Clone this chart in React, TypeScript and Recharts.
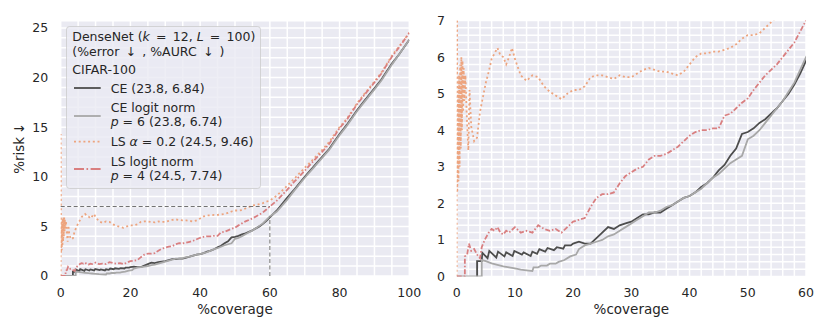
import React from 'react';
import { LineChart, Line, XAxis, YAxis, CartesianGrid, ReferenceLine } from 'recharts';

// [coverage %, risk %]
const ceCurve: [number, number][] = [
  [3.5, 0], [3.5, 0.42], [4.3, 0.42], [4.4, 0.65], [5.3, 0.5], [5.6, 0.7], [6.8, 0.52], [7.1, 0.68],
  [8.2, 0.55], [8.5, 0.66], [9.6, 0.56], [9.9, 0.7], [11.2, 0.6], [11.5, 0.66], [12.7, 0.56], [13.0, 0.68],
  [13.8, 0.62], [14.2, 0.75], [15.2, 0.68], [15.6, 0.78], [16.7, 0.72], [17.2, 0.8], [18.3, 0.76], [18.6, 0.85],
  [19.6, 0.85], [20, 0.9], [21, 0.95], [22, 0.9], [23, 0.9], [24, 1.05], [25, 1.2], [26, 1.35], [27, 1.3],
  [28, 1.4], [29, 1.45], [30, 1.5], [31, 1.6], [32, 1.7], [33, 1.7], [34, 1.75], [35, 1.75], [36, 1.85],
  [37, 1.95], [38, 2.05], [39, 2.15], [40, 2.2], [41, 2.3], [42, 2.45], [43, 2.55], [44, 2.7], [45, 2.9],
  [46, 3.05], [47, 3.3], [48, 3.5], [49, 3.9], [50, 3.95], [51, 4.05], [52, 4.2], [53, 4.3], [54, 4.45],
  [55, 4.6], [56, 4.8], [57, 5.0], [58, 5.25], [59, 5.55], [60, 5.9], [62, 6.6], [65, 7.9], [67, 8.7],
  [70, 10.0], [72, 10.8], [75, 12.0], [77, 12.8], [80, 14.3], [82, 15.2], [85, 16.7], [87, 17.6], [90, 18.9],
  [92, 19.8], [95, 21.4], [97, 22.3], [100, 23.8],
];

const ceLogitCurve: [number, number][] = [
  [0, 0], [4.3, 0], [4.3, 0.45], [5, 0.42], [6, 0.36], [7, 0.32], [8, 0.28], [9, 0.25], [10, 0.22],
  [11, 0.19], [12, 0.17], [13, 0.15], [13.2, 0.25], [14, 0.25], [14.5, 0.3], [15.5, 0.3], [16, 0.35],
  [17, 0.35], [17.5, 0.4], [18.5, 0.45], [19.5, 0.55], [20.5, 0.6], [21, 0.75], [22, 0.85], [23, 0.9],
  [24, 0.95], [25, 1.0], [26, 1.1], [27, 1.15], [28, 1.25], [29, 1.35], [30, 1.45], [31, 1.55], [32, 1.65],
  [33, 1.75], [34, 1.75], [35, 1.8], [36, 1.9], [37, 1.95], [38, 2.05], [39, 2.15], [40, 2.2], [41, 2.3],
  [42, 2.4], [43, 2.55], [44, 2.7], [45, 2.8], [46, 2.95], [47, 3.1], [48, 3.2], [49, 3.3], [50, 3.75],
  [51, 3.85], [52, 4.0], [53, 4.2], [54, 4.4], [55, 4.6], [56, 4.8], [57, 5.05], [58, 5.3], [59, 5.65],
  [60, 6.0], [62, 6.5], [65, 7.7], [67, 8.6], [70, 9.9], [72, 10.7], [75, 11.9], [77, 12.7], [80, 14.2],
  [82, 15.1], [85, 16.6], [87, 17.5], [90, 18.8], [92, 19.7], [95, 21.3], [97, 22.3], [100, 23.8],
];

const lsCurve: [number, number][] = [
  [0, 0], [0, 14.3], [0.1, 2.3], [0.2, 5.0], [0.3, 2.6], [0.4, 5.5], [0.5, 3.0], [0.6, 5.8], [0.7, 3.5],
  [0.8, 6.0], [0.9, 4.0], [1.0, 5.9], [1.1, 4.5], [1.2, 5.7], [1.3, 4.8], [1.5, 5.5], [1.7, 4.5], [2.0, 3.45],
  [2.2, 5.1], [2.5, 4.1], [3.0, 3.7], [3.5, 3.8], [4.0, 4.5], [4.5, 4.9], [5.0, 5.3], [5.5, 5.6], [6.0, 5.95],
  [6.5, 6.1], [7.0, 6.25], [7.5, 6.05], [8, 6.0], [8.5, 5.8], [9, 6.0], [9.5, 6.25], [10, 5.95], [11, 5.5],
  [12, 5.35], [13, 5.5], [14, 5.45], [15, 5.2], [16, 5.05], [17, 4.95], [18, 4.85], [19, 5.0], [20, 5.1],
  [21, 5.1], [22, 5.2], [23, 5.45], [24, 5.5], [25, 5.5], [26, 5.45], [27, 5.4], [28, 5.5], [29, 5.45],
  [30, 5.45], [31, 5.55], [32, 5.65], [33, 5.7], [34, 5.65], [35, 5.6], [36, 5.6], [37, 5.55], [38, 5.5],
  [39, 5.6], [40, 5.8], [41, 6.0], [42, 6.1], [43, 6.1], [44, 6.15], [45, 6.15], [46, 6.2], [47, 6.25],
  [48, 6.35], [49, 6.5], [50, 6.6], [51, 6.6], [52, 6.65], [53, 6.8], [54, 6.95], [55, 7.1], [56, 7.15],
  [57, 7.25], [58, 7.35], [59, 7.5], [60, 7.6], [62, 8.1], [65, 9.1], [67, 9.8], [70, 10.9], [72, 11.6],
  [75, 12.7], [77, 13.5], [80, 15.0], [82, 15.8], [85, 17.4], [87, 18.3], [90, 19.6], [92, 20.5], [95, 22.2],
  [97, 23.1], [100, 24.5],
];

const lsLogitCurve: [number, number][] = [
  [0, 0], [1.4, 0], [1.4, 0.55], [1.8, 0.6], [2.1, 0.9], [2.5, 0.7], [3, 0.75], [3.5, 0.6], [4, 0.5],
  [4.3, 0.8], [4.8, 1.0], [5.5, 1.2], [6, 1.3], [6.5, 1.25], [7, 1.35], [7.5, 1.2], [8, 1.15], [8.5, 1.25],
  [9, 1.2], [10, 1.35], [11, 1.2], [12, 1.25], [13, 1.2], [14, 1.4], [15, 1.3], [16, 1.25], [17, 1.3],
  [18, 1.2], [19, 1.35], [20, 1.5], [21, 1.55], [22, 1.6], [23, 1.9], [24, 2.15], [25, 2.25], [26, 2.25],
  [27, 2.3], [28, 2.55], [29, 2.75], [30, 2.85], [31, 2.95], [32, 3.0], [33, 3.2], [34, 3.3], [35, 3.3],
  [36, 3.35], [37, 3.45], [38, 3.55], [39, 3.7], [40, 3.85], [41, 3.95], [42, 4.0], [43, 4.0], [44, 4.05],
  [45, 4.05], [46, 4.4], [47, 4.45], [48, 4.6], [49, 4.75], [50, 4.87], [51, 5.1], [52, 5.3], [53, 5.5],
  [54, 5.65], [55, 5.8], [56, 6.0], [57, 6.2], [58, 6.4], [59, 6.7], [60, 7.0], [62, 7.6], [65, 8.7],
  [67, 9.5], [70, 10.6], [72, 11.4], [75, 12.5], [77, 13.3], [80, 14.9], [82, 15.7], [85, 17.3], [87, 18.2],
  [90, 19.5], [92, 20.4], [95, 22.1], [97, 23.0], [100, 24.5],
];

// axes
const leftXLabels = [0, 20, 40, 60, 80, 100];
const leftYLabels = [0, 5, 10, 15, 20, 25];
const rightXLabels = [0, 10, 20, 30, 40, 50, 60];
const rightYLabels = [0, 1, 2, 3, 4, 5, 6, 7];
const leftYMax = 25.725;
const rightXMax = 60;
const rightYMax = 7;
// zoom box marker on left panel
const zoomRiskLevel = 7;
const zoomCoverage = 60;
const zoomCoverageRisk = 6;

const steps = (max: number, step: number) =>
  Array.from({ length: Math.round(max / step) + 1 }, (_, i) => Math.round(i * step * 1000) / 1000);

const leftXGrid = steps(100, 5);
const leftYGrid = steps(25, 1);
const rightXGrid = steps(60, 2);
const rightYGrid = steps(7, 0.2);

const toPoints = (c: [number, number][]) => c.map(([x, y]) => ({ x, y }));

const series = [
  { name: 'CE', data: toPoints(ceCurve), color: '#4d4d4d', dash: undefined, legendDash: undefined },
  { name: 'CE logit norm', data: toPoints(ceLogitCurve), color: '#a8a8a8', dash: undefined, legendDash: undefined },
  { name: 'LS', data: toPoints(lsCurve), color: '#eda47e', dash: '2 2.7', legendDash: '2 2.7' },
  { name: 'LS logit norm', data: toPoints(lsLogitCurve), color: '#d97f80', dash: '5 2 1.5 2', legendDash: '10 2.5 1.6 2.5' },
];

const FONT = 'DejaVu Sans';
const TEXT = '#262626';
const tickStyle = { fill: TEXT, fontSize: 12.5, fontFamily: FONT };
const EQ = '\u2002=\u2002';

const labelFmt = (labels: number[]) => (v: number) =>
  labels.some((l) => Math.abs(l - v) < 1e-6) ? String(Math.round(v)) : '';

const yLabel = (props: any) => {
  const vb = props.viewBox;
  const cy = vb.y + vb.height / 2;
  return (
    <text x={19.5} y={cy} transform={`rotate(-90 19.5 ${cy})`} textAnchor="middle" dominantBaseline="central"
      fill={TEXT} fontSize={13.5} fontFamily={FONT}>
      %risk{'\u2009'}↓
    </text>
  );
};

const renderLines = () =>
  series.map((s) => (
    <Line key={s.name} data={s.data} dataKey="y" type="linear" stroke={s.color} strokeWidth={1.8}
      strokeDasharray={s.dash} dot={false} activeDot={false} isAnimationActive={false} />
  ));

const LegendBox = () => {
  const it = { fontStyle: 'italic' as const };
  return (
    <svg width={196} height={164} style={{ position: 'absolute', left: 66, top: 26 }}
      fontFamily={FONT} fontSize={12.5} fill={TEXT}>
      <rect x={0.5} y={0.5} width={194} height={162} rx={3} fill="#eaeaf2" fillOpacity={0.8}
        stroke="#cccccc" strokeOpacity={0.8} />
      <text x={6.3} y={15.3}>DenseNet (<tspan {...it}>k</tspan>{EQ}12, <tspan {...it}>L</tspan>{EQ}100)</text>
      <text x={6.3} y={30}>(%error{'\u2002'}↓{'\u2002'}, %AURC{'\u2002'}↓{'\u2002'})</text>
      <text x={6.3} y={48}>CIFAR-100</text>

      <line x1={8} x2={34.7} y1={62} y2={62} stroke={series[0].color} strokeWidth={1.8} />
      <text x={44.7} y={66.7}>CE (23.8, 6.84)</text>

      <line x1={8} x2={34.7} y1={90} y2={90} stroke={series[1].color} strokeWidth={1.8} />
      <text x={44.7} y={85.7}>CE logit norm</text>
      <text x={44.7} y={100}><tspan {...it}>p</tspan> = 6 (23.8, 6.74)</text>

      <line x1={8} x2={34.7} y1={115.7} y2={115.7} stroke={series[2].color} strokeWidth={1.8}
        strokeDasharray={series[2].legendDash} />
      <text x={44.7} y={119.5}>LS <tspan {...it}>α</tspan> = 0.2 (24.5, 9.46)</text>

      <line x1={8} x2={34.7} y1={143} y2={143} stroke={series[3].color} strokeWidth={1.8}
        strokeDasharray={series[3].legendDash} />
      <text x={44.7} y={139.5}>LS logit norm</text>
      <text x={44.7} y={153.5}><tspan {...it}>p</tspan> = 4 (24.5, 7.74)</text>
    </svg>
  );
};

export default function App() {
  return (
    <div style={{ position: 'absolute', left: 0, top: 0, width: 830, height: 332, background: '#fff' }}>
      <LineChart width={415} height={332} margin={{ top: 20.5, right: 24, bottom: 0, left: 0 }}
        style={{ position: 'absolute', left: 415, top: 0 }}>
        <CartesianGrid stroke="#ffffff" strokeWidth={1.5} fill="#eaeaf2" fillOpacity={1} />
        <XAxis dataKey="x" type="number" domain={[0, rightXMax]} ticks={rightXGrid} interval={0} allowDataOverflow
          tickFormatter={labelFmt(rightXLabels)} tick={tickStyle} tickLine={false} axisLine={false}
          tickSize={0} tickMargin={12} height={55.5}
          label={{ value: '%coverage', position: 'insideBottom', offset: 18, fill: TEXT, fontSize: 13.5, fontFamily: FONT }} />
        <YAxis type="number" domain={[0, rightYMax]} ticks={rightYGrid} interval={0} allowDataOverflow
          tickFormatter={labelFmt(rightYLabels)} tick={tickStyle} tickLine={false} axisLine={false}
          tickSize={0} tickMargin={11.7} width={41.7} />
        {renderLines()}
      </LineChart>

      <LineChart width={430} height={332} margin={{ top: 20.7, right: 20.7, bottom: 0, left: 0 }}
        style={{ position: 'absolute', left: 0, top: 0 }}>
        <CartesianGrid stroke="#ffffff" strokeWidth={1.5} fill="#eaeaf2" fillOpacity={1} />
        <XAxis dataKey="x" type="number" domain={[0, 100]} ticks={leftXGrid} interval={0} allowDataOverflow
          tickFormatter={labelFmt(leftXLabels)} tick={tickStyle} tickLine={false} axisLine={false}
          tickSize={0} tickMargin={12} height={56}
          label={{ value: '%coverage', position: 'insideBottom', offset: 18, fill: TEXT, fontSize: 13.5, fontFamily: FONT }} />
        <YAxis type="number" domain={[0, leftYMax]} ticks={leftYGrid} interval={0} allowDataOverflow
          tickFormatter={labelFmt(leftYLabels)} tick={tickStyle} tickLine={false} axisLine={false}
          tickSize={0} tickMargin={12.5} width={60.7} label={yLabel} />
        {renderLines()}
        <ReferenceLine segment={[{ x: 0, y: zoomRiskLevel }, { x: zoomCoverage, y: zoomRiskLevel }]}
          stroke="#707070" strokeWidth={1} strokeDasharray="4 2.5" />
        <ReferenceLine segment={[{ x: zoomCoverage, y: 0 }, { x: zoomCoverage, y: zoomCoverageRisk }]}
          stroke="#707070" strokeWidth={1} strokeDasharray="4 2.5" />
      </LineChart>

      <LegendBox />
    </div>
  );
}
